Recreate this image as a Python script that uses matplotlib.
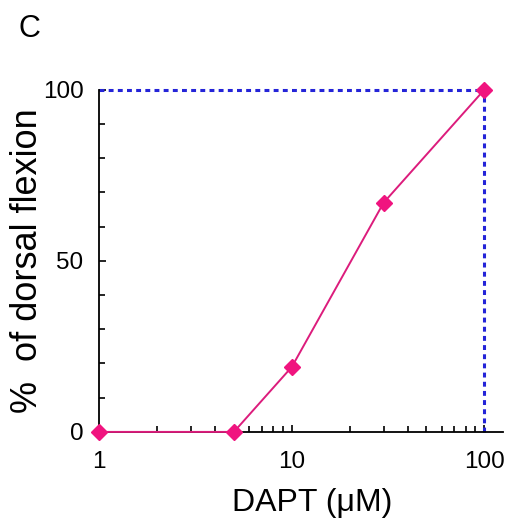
import matplotlib
matplotlib.use('agg')
import matplotlib.pyplot as plt
from matplotlib.ticker import LogLocator, MultipleLocator, FixedLocator, NullFormatter

# data
dapt = [1, 5, 10, 30, 100]
flexion = [0, 0, 19, 67, 100]
xticks = [1, 10, 100]
xticklabels = ['1', '10', '100']
yticks = [0, 50, 100]

plt.rcParams['font.family'] = ['Liberation Sans', 'DejaVu Sans']

fig = plt.figure(figsize=(5.07, 5.28), dpi=100)
ax = fig.add_axes([0.196, 0.182, 0.796, 0.648])

pink = '#F0147F'
line_pink = '#DC1C7C'
blue = '#2424D8'

# dotted reference box at 100 %
ax.plot([dapt[0], dapt[-1]], [flexion[-1], flexion[-1]], color=blue, lw=2.2,
        linestyle=(0, (1.6, 1.4)), clip_on=False, zorder=2)
ax.plot([dapt[-1], dapt[-1]], [flexion[0], flexion[-1]], color=blue, lw=2.2,
        linestyle=(0, (1.6, 1.4)), clip_on=False, zorder=2)

ax.plot(dapt, flexion, color=line_pink, lw=1.4, marker='D', markersize=8,
        markerfacecolor=pink, markeredgecolor=pink, clip_on=False, zorder=4)

ax.set_xscale('log')
ax.set_xlim(1, 125)
ax.set_ylim(0, 100)

ax.spines['top'].set_visible(False)
ax.spines['right'].set_visible(False)
for s in ['left', 'bottom']:
    ax.spines[s].set_linewidth(1.3)

ax.xaxis.set_major_locator(FixedLocator(xticks))
ax.set_xticklabels(xticklabels)
ax.xaxis.set_minor_locator(LogLocator(base=10, subs=range(2, 10)))
ax.xaxis.set_minor_formatter(NullFormatter())
ax.yaxis.set_major_locator(FixedLocator(yticks))
ax.yaxis.set_minor_locator(MultipleLocator(10))

ax.tick_params(axis='both', which='both', direction='in', width=1.2)
ax.tick_params(axis='both', which='major', length=5, labelsize=17.5)
ax.tick_params(axis='both', which='minor', length=4)
ax.tick_params(axis='x', which='major', pad=14)
ax.tick_params(axis='y', which='major', pad=11.5)

ax.set_xlabel('DAPT (μM)', fontsize=23)
ax.xaxis.set_label_coords(0.527, -0.165)
ax.set_ylabel('%  of dorsal flexion', fontsize=26, labelpad=-2)

fig.text(0.036, 0.930, 'C', fontsize=22)

plt.savefig('out.png', dpi=100)
